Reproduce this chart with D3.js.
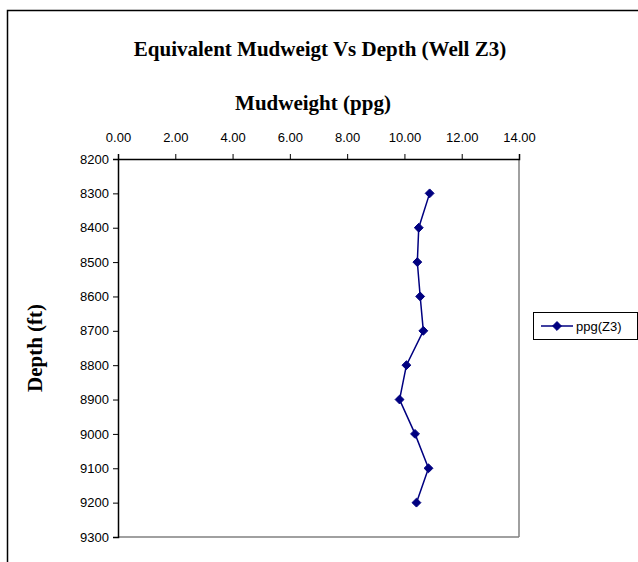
<!DOCTYPE html>
<html>
<head>
<meta charset="utf-8">
<script src="https://cdn.jsdelivr.net/npm/d3@7"></script>
<style>
  body { margin: 0; background: #fff; }
  svg { display: block; }
</style>
</head>
<body>
<svg id="chart" width="638" height="562"></svg>
<script>
// data
const depths = [8300, 8400, 8500, 8600, 8700, 8800, 8900, 9000, 9100, 9200];
const ppgZ3 = [10.88, 10.50, 10.45, 10.55, 10.66, 10.07, 9.83, 10.37, 10.84, 10.42];
const xTicks = [0, 2, 4, 6, 8, 10, 12, 14];
const yTicks = [8200, 8300, 8400, 8500, 8600, 8700, 8800, 8900, 9000, 9100, 9200, 9300];
const seriesName = 'ppg(Z3)';

const svg = d3.select('#chart');
const navy = '#000080';
const plot = { left: 118, top: 159, right: 519, bottom: 537 };
const serif = 'Liberation Serif, Times New Roman, serif';
const sans = 'Liberation Sans, Arial, sans-serif';

// outer chart frame
svg.append('rect')
  .attr('x', 7.5).attr('y', 10.5)
  .attr('width', 660).attr('height', 600)
  .style('fill', '#fff').style('stroke', '#000').style('stroke-width', 1.5);

const x = d3.scaleLinear().domain([0, 14]).range([plot.left, plot.right]);
const y = d3.scaleLinear().domain([8200, 9300]).range([plot.top, plot.bottom]);

// plot area: right and bottom grey, top/left are the axes
svg.append('line')
  .attr('x1', plot.right).attr('y1', plot.top)
  .attr('x2', plot.right).attr('y2', plot.bottom)
  .style('stroke', '#808080').style('stroke-width', 1.5);
svg.append('line')
  .attr('x1', plot.left).attr('y1', plot.bottom)
  .attr('x2', plot.right).attr('y2', plot.bottom)
  .style('stroke', '#808080').style('stroke-width', 1.5);

const xAxis = svg.append('g')
  .attr('transform', `translate(0,${plot.top})`)
  .call(d3.axisTop(x).tickValues(xTicks).tickFormat(d3.format('.2f')).tickSizeOuter(0).tickSize(5).tickPadding(12));
const yAxis = svg.append('g')
  .attr('transform', `translate(${plot.left},0)`)
  .call(d3.axisLeft(y).tickValues(yTicks).tickFormat(d => d).tickSizeOuter(0).tickSize(5).tickPadding(4));

[xAxis, yAxis].forEach(g => {
  g.select('.domain').style('stroke', '#000').style('stroke-width', 1.5);
  g.selectAll('.tick line').style('stroke', '#000');
  g.selectAll('text')
    .style('font-family', sans)
    .style('font-size', '13px')
    .style('fill', '#000');
});

// titles
svg.append('text')
  .attr('x', 320).attr('y', 56)
  .attr('text-anchor', 'middle')
  .style('font-family', serif)
  .style('font-weight', 'bold').style('font-size', '21px')
  .text('Equivalent Mudweigt Vs Depth (Well Z3)');

svg.append('text')
  .attr('x', 313).attr('y', 110)
  .attr('text-anchor', 'middle')
  .style('font-family', serif)
  .style('font-weight', 'bold').style('font-size', '21px')
  .text('Mudweight (ppg)');

svg.append('text')
  .attr('transform', `translate(42,${(plot.top + plot.bottom) / 2}) rotate(-90)`)
  .attr('text-anchor', 'middle')
  .style('font-family', serif)
  .style('font-weight', 'bold').style('font-size', '21px')
  .text('Depth (ft)');

// series
const pts = depths.map((d, i) => ({ depth: d, ppg: ppgZ3[i] }));
const diamond = d3.symbol().type(d3.symbolDiamond2).size(50);

svg.append('path')
  .datum(pts)
  .attr('d', d3.line().x(d => x(d.ppg)).y(d => y(d.depth)))
  .style('fill', 'none').style('stroke', navy).style('stroke-width', 1.5);

svg.selectAll('path.pt')
  .data(pts)
  .enter().append('path')
  .attr('class', 'pt')
  .attr('transform', d => `translate(${x(d.ppg)},${y(d.depth)})`)
  .attr('d', diamond)
  .style('fill', navy).style('stroke', navy);

// legend
const leg = svg.append('g').attr('transform', 'translate(533,312)');
leg.append('rect')
  .attr('x', 0.5).attr('y', 0.5).attr('width', 104).attr('height', 27)
  .style('fill', '#fff').style('stroke', '#000').style('stroke-width', 1);
leg.append('line')
  .attr('x1', 8).attr('x2', 40).attr('y1', 14).attr('y2', 14)
  .style('stroke', navy).style('stroke-width', 1.5);
leg.append('path')
  .attr('transform', 'translate(24,14)')
  .attr('d', diamond)
  .style('fill', navy).style('stroke', navy);
leg.append('text')
  .attr('x', 43).attr('y', 18.5)
  .style('font-family', sans)
  .style('font-size', '13px')
  .text(seriesName);
</script>
</body>
</html>
